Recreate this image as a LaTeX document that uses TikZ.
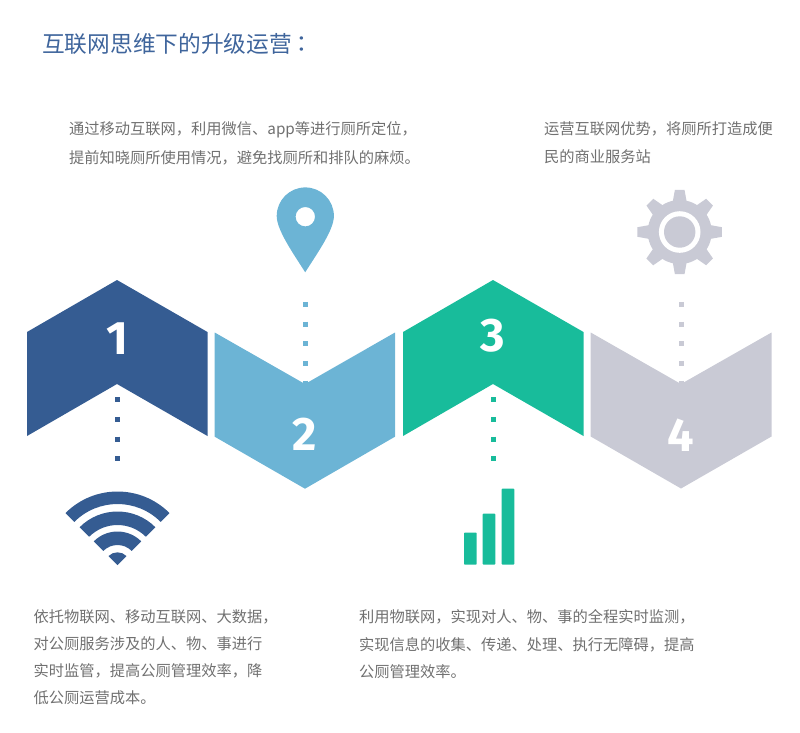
\documentclass[tikz,border=0pt]{standalone}
\usepackage{fontspec}
\setmainfont{Noto Sans CJK SC}[Kerning=Off]
\newfontfamily\tcfont{Noto Sans CJK TC}
\newfontfamily\numfont{Fira Sans}[BoldFont={Fira Sans Bold}]
\usetikzlibrary{calc}
\definecolor{cnavy}{HTML}{355C92}
\definecolor{csky}{HTML}{6CB4D5}
\definecolor{cgreen}{HTML}{18BC9B}
\definecolor{cgrey}{HTML}{C9CAD5}
\definecolor{ctitle}{HTML}{3F659C}
\definecolor{ctext}{HTML}{707070}
\tikzset{
  body/.style={anchor=west,inner sep=0pt,text=ctext,font=\fontsize{15.25}{15}\selectfont},
  heading/.style={anchor=west,inner sep=0pt,text=ctitle,font=\fontsize{22.7}{23}\selectfont},
  numeral/.style={inner sep=0pt,text=white,font=\numfont\bfseries\fontsize{47}{47}\selectfont},
  dots/.style={line width=5pt,dash pattern=on 5pt off 14.7pt},
}
\begin{document}
\begin{tikzpicture}[x=1pt,y=-1pt]
\useasboundingbox (0,0) rectangle (800,732);
% title
\node[heading] (title) at (42,43.5) {互联网思维下的升级运营\kern-1.5pt{\tcfont ：}};
% dotted connectors
\coordinate (d1a) at (117,397.2); \coordinate (d1b) at (117,462);
\coordinate (d2a) at (305,301.8); \coordinate (d2b) at (305,386);
\coordinate (d3a) at (493,397.2); \coordinate (d3b) at (493,462);
\coordinate (d4a) at (681,301.8); \coordinate (d4b) at (681,386);
\draw[dots,cnavy] (d1a) -- (d1b);
\draw[dots,csky] (d2a) -- (d2b);
\draw[dots,cgreen] (d3a) -- (d3b);
\draw[dots,cgrey] (d4a) -- (d4b);
% chevrons
\fill[cnavy] (27,332) -- (117,280) -- (207.5,332) -- (207.5,436) -- (117,384) -- (27,436) -- cycle;
\fill[csky] (214.7,332.5) -- (305,384) -- (395,332.5) -- (395,436.7) -- (305,488.7) -- (214.7,436.7) -- cycle;
\fill[cgreen] (403,332) -- (493,280) -- (583.5,332) -- (583.5,436) -- (493,384) -- (403,436) -- cycle;
\fill[cgrey] (590.7,332.5) -- (681,384) -- (771.5,332.5) -- (771.5,436.5) -- (681,488.5) -- (590.7,436.5) -- cycle;
% numerals
\node[numeral] (n1) at (117.5,339) {1};
\node[numeral] (n2) at (305,434) {2};
\node[numeral] (n3) at (493,336) {3};
\node[numeral] (n4) at (681,435) {4};
% wifi
\coordinate (w) at (117.5,565);
\foreach \ri/\ro in {61/73.5,40/53.5,20/33.5}{
  \fill[cnavy] ($(w)+(-135:\ro)$) arc[start angle=-135,end angle=-45,radius=\ro]
    -- ($(w)+(-45:\ri)$) arc[start angle=-45,end angle=-135,radius=\ri] -- cycle;
}
\fill[cnavy] (w) -- ($(w)+(-135:12.7)$) arc[start angle=-135,end angle=-45,radius=12.7] -- cycle;
% bars
\fill[cgreen,rounded corners=0.7pt] (464,564.5) rectangle (476.7,532.7);
\fill[cgreen,rounded corners=0.7pt] (482.7,564.5) rectangle (495.3,513.7);
\fill[cgreen,rounded corners=0.7pt] (501.7,564.5) rectangle (514.3,488.7);
% pin
\fill[csky,even odd rule] (305.2,272.3) .. controls (293,253) and (276.7,230) .. (276.7,216)
  arc[start angle=180,end angle=360,radius=28.6]
  .. controls (333.9,230) and (317.4,253) .. (305.2,272.3) -- cycle
  (315,216.7) arc[start angle=0,end angle=360,radius=9.7];
% gear
\coordinate (g) at (679.7,232);
\fill[cgrey] (g) circle[radius=32];
\foreach \a in {0,45,...,315}{
  \fill[cgrey] ($(g)+(\a-13:31)$) -- ($(g)+(\a-6.5:42.5)$) -- ($(g)+(\a+6.5:42.5)$) -- ($(g)+(\a+13:31)$) -- cycle;
}
\fill[white] (g) circle[radius=20.8];
\fill[cgrey] (g) circle[radius=15.7];
% texts
\node[body] (t1a) at (69,129.5) {通过移动互联网，利用微信、app等进行厕所定位，};
\node[body] (t1b) at (69,157.5) {提前知晓厕所使用情况，避免找厕所和排队的麻烦。};
\node[body] (t2a) at (544,128.5) {运营互联网优势，将厕所打造成便};
\node[body] (t2b) at (544,156.5) {民的商业服务站};
\node[body] (t3a) at (33.5,616.5) {依托物联网、移动互联网、大数据，};
\node[body] (t3b) at (33.5,644) {对公厕服务涉及的人、物、事进行};
\node[body] (t3c) at (33.5,671) {实时监管，提高公厕管理效率，降};
\node[body] (t3d) at (33.5,698) {低公厕运营成本。};
\node[body] (t4a) at (359,617) {利用物联网，实现对人、物、事的全程实时监测，};
\node[body] (t4b) at (359,645) {实现信息的收集、传递、处理、执行无障碍，提高};
\node[body] (t4c) at (359,672) {公厕管理效率。};
\end{tikzpicture}
\end{document}
